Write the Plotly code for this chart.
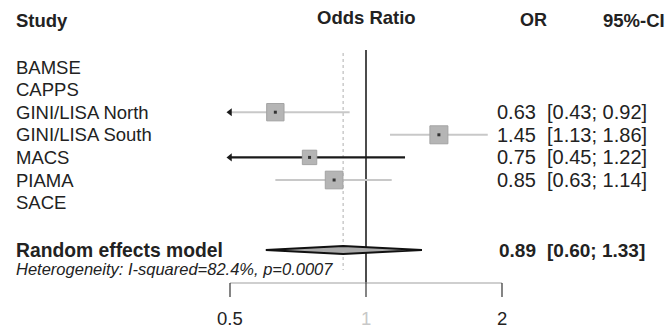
import math
import plotly.graph_objects as go

W, H = 671, 335

# ---------------- data ----------------
studies = ["BAMSE", "CAPPS", "GINI/LISA North", "GINI/LISA South", "MACS", "PIAMA", "SACE"]
odds_ratio = [None, None, 0.63, 1.45, 0.75, 0.85, None]
ci_lower = [None, None, 0.43, 1.13, 0.45, 0.63, None]
ci_upper = [None, None, 0.92, 1.86, 1.22, 1.14, None]
weights = [0, 0, 26.0, 28.0, 18.0, 27.0, 0]

pooled_label = "Random effects model"
pooled_or = 0.89
pooled_lower = 0.60
pooled_upper = 1.33
heterogeneity = "Heterogeneity: I-squared=82.4%, p=0.0007"

tick_values = [0.5, 1, 2]
tick_labels = ["0.5", "1", "2"]
x_limits = [0.5, 2]

# ---------------- layout helpers ----------------
x_left_px, x_right_px = 230, 502
ppl = (x_right_px - x_left_px) / (math.log10(x_limits[1]) - math.log10(x_limits[0]))
lo_log = math.log10(x_limits[0]) - x_left_px / ppl
hi_log = lo_log + W / ppl

header_y = 19
row0 = 67
step = 22.6
row_y = [row0 + step * i for i in range(len(studies))]
pooled_y = 250
het_y = 269
axis_y = 283

FONT = "Liberation Sans, Arial, sans-serif"
TXT = "#222222"

def px(x):
    return x / W

fig = go.Figure()

# CI lines, arrows, boxes
for name, est, lo, hi, w, y in zip(studies, odds_ratio, ci_lower, ci_upper, weights, row_y):
    if est is None:
        continue
    clipped = lo < x_limits[0]
    dark = clipped and hi > 1
    col = "#1a1a1a" if dark else "#c8c8c8"
    fig.add_trace(go.Scatter(x=[max(lo, x_limits[0]), min(hi, x_limits[1])], y=[y, y],
                             mode="lines", line=dict(color=col, width=2.2 if dark else 2),
                             hoverinfo="skip", showlegend=False))
    if clipped:
        fig.add_trace(go.Scatter(x=[x_limits[0]], y=[y], mode="markers",
                                 marker=dict(symbol="triangle-left", size=7, color="#1a1a1a"),
                                 hoverinfo="skip", showlegend=False))
    fig.add_trace(go.Scatter(x=[est], y=[y], mode="markers",
                             marker=dict(symbol="square", size=3.4 * math.sqrt(w),
                                         color="#b5b5b5", line=dict(color="#a3a3a3", width=1)),
                             hoverinfo="skip", showlegend=False))
    fig.add_trace(go.Scatter(x=[est], y=[y], mode="markers",
                             marker=dict(symbol="square", size=3, color="#333333"),
                             hoverinfo="skip", showlegend=False))

# pooled diamond
dh = 4
fig.add_trace(go.Scatter(x=[pooled_lower, pooled_or, pooled_upper, pooled_or, pooled_lower],
                         y=[pooled_y, pooled_y - dh, pooled_y, pooled_y + dh, pooled_y],
                         mode="lines", fill="toself", fillcolor="#a9a9a9",
                         line=dict(color="#111111", width=1.8),
                         hoverinfo="skip", showlegend=False))

shapes = []
# null line
shapes.append(dict(type="line", xref="x", yref="y", x0=1, x1=1, y0=50, y1=axis_y,
                   line=dict(color="#111111", width=1.5), layer="below"))
# pooled estimate dotted line
shapes.append(dict(type="line", xref="x", yref="y", x0=pooled_or, x1=pooled_or, y0=53, y1=axis_y - 13,
                   line=dict(color="#bdbdbd", width=1.2, dash="dot"), layer="below"))
# x axis line
shapes.append(dict(type="line", xref="x", yref="y", x0=x_limits[0], x1=x_limits[1], y0=axis_y, y1=axis_y,
                   line=dict(color="#a0a0a0", width=1.2)))
for tv in tick_values:
    shapes.append(dict(type="line", xref="x", yref="y", x0=tv, x1=tv, y0=axis_y, y1=axis_y + 14,
                       line=dict(color="#333333", width=1.2)))

ann = []
def text(x, y, s, anchor="left", size=18, bold=False, italic=False, color=TXT, xref="paper"):
    if bold:
        s = "<b>" + s + "</b>"
    if italic:
        s = "<i>" + s + "</i>"
    ann.append(dict(x=x, y=y, xref=xref, yref="y", text=s, showarrow=False,
                    xanchor=anchor, yanchor="middle",
                    font=dict(family=FONT, size=size, color=color)))

# headers
text(px(14), header_y + 1, "Study", bold=True, size=18.5)
text(math.log10(1), header_y - 2, "Odds Ratio", anchor="center", bold=True, size=18.5, xref="x")
text(px(549), header_y + 1, "OR", anchor="right", bold=True, size=18)
text(px(667), header_y + 1, "95%-CI", anchor="right", bold=True, size=18.5)

for name, est, lo, hi, y in zip(studies, odds_ratio, ci_lower, ci_upper, row_y):
    text(px(14), y, name, size=18.5)
    if est is not None:
        text(px(538), y, f"{est:.2f}", anchor="right", size=20)
        text(px(545), y, f"[{lo:.2f}; {hi:.2f}]", anchor="left", size=20)

text(px(14), pooled_y, pooled_label, bold=True, size=19.3)
text(px(538), pooled_y, f"{pooled_or:.2f}", anchor="right", bold=True, size=19)
text(px(545), pooled_y, f"[{pooled_lower:.2f}; {pooled_upper:.2f}]", anchor="left", bold=True, size=19)
text(px(14), het_y, heterogeneity, size=16.5, italic=True)

for tv, tl in zip(tick_values, tick_labels):
    text(math.log10(tv), 318, tl, anchor="center", size=18.5, xref="x",
         color=TXT if tl != "1" else "#c8c8c8")

fig.update_layout(
    width=W, height=H,
    margin=dict(l=0, r=0, t=0, b=0),
    paper_bgcolor="white", plot_bgcolor="white",
    xaxis=dict(type="log", range=[lo_log, hi_log], visible=False, fixedrange=True),
    yaxis=dict(range=[H, 0], visible=False, fixedrange=True),
    shapes=shapes, annotations=ann, showlegend=False,
)

fig.write_html("out.html", config={"displayModeBar": False},
               post_script="document.body.style.margin='0';")
